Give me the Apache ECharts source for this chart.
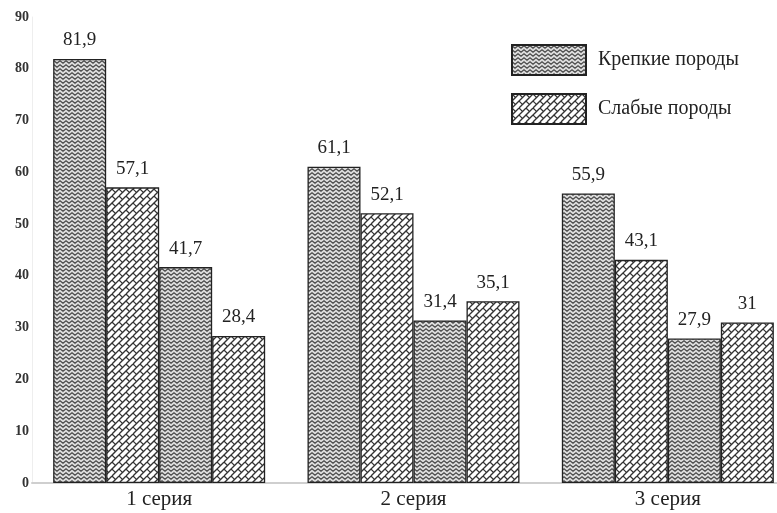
<!DOCTYPE html>
<html>
<head>
<meta charset="utf-8">
<script src="https://cdn.jsdelivr.net/npm/echarts@6/dist/echarts.min.js"></script>
<style>html,body{margin:0;padding:0;background:#fff;}#c{width:777px;height:513px;}</style>
</head>
<body>
<div id="c"></div>
<script>
const categories = ['1 серия', '2 серия', '3 серия'];
const seriesNames = ['Крепкие породы', 'Слабые породы', 'Крепкие породы', 'Слабые породы'];
const strongA = [81.9, 61.1, 55.9];
const weakA = [57.1, 52.1, 43.1];
const strongB = [41.7, 31.4, 27.9];
const weakB = [28.4, 35.1, 31];
const yTicks = [0, 10, 20, 30, 40, 50, 60, 70, 80, 90];

function zigzag() {
  const c = document.createElement('canvas');
  c.width = 6; c.height = 4;
  const g = c.getContext('2d');
  g.fillStyle = '#dcdcdc'; g.fillRect(0, 0, 6, 4);
  g.strokeStyle = '#444'; g.lineWidth = 1.1;
  g.beginPath();
  g.moveTo(-3, 3.2); g.lineTo(0, 0.8); g.lineTo(3, 3.2); g.lineTo(6, 0.8); g.lineTo(9, 3.2);
  g.stroke();
  return c;
}
function bricks() {
  const s = 14;
  const c = document.createElement('canvas');
  c.width = s; c.height = s;
  const g = c.getContext('2d');
  g.fillStyle = '#ffffff'; g.fillRect(0, 0, s, s);
  g.strokeStyle = '#333'; g.lineWidth = 1.3;
  for (let k = -2; k <= 4; k++) {
    const x0 = k * 7;
    g.beginPath(); g.moveTo(x0, s); g.lineTo(x0 + s, 0); g.stroke();
  }
  const seg = (x, y) => { g.beginPath(); g.moveTo(x - 1.9, y - 1.9); g.lineTo(x + 1.9, y + 1.9); g.stroke(); };
  const pts = [[1.75, 1.75], [8.75, 8.75], [8.75, 1.75], [1.75, 8.75]];
  for (let dx = -s; dx <= s; dx += s) for (let dy = -s; dy <= s; dy += s) {
    pts.forEach(p => seg(p[0] + dx, p[1] + dy));
  }
  return c;
}
const zz = { image: zigzag(), repeat: 'repeat' };
const br = { image: bricks(), repeat: 'repeat' };
const fills = [zz, br, zz, br];
const dataSets = [strongA, weakA, strongB, weakB];

const chart = echarts.init(document.getElementById('c'));
const font = 'Liberation Serif';
chart.setOption({
  animation: false,
  backgroundColor: '#fff',
  textStyle: { fontFamily: font },
  grid: { left: 32, width: 763, top: 17, bottom: 30, containLabel: false, outerBoundsMode: 'none' },
  legend: {
    data: ['Крепкие породы', 'Слабые породы'],
    orient: 'vertical',
    left: 511, top: 44, padding: 0,
    icon: 'rect',
    itemWidth: 74, itemHeight: 30, itemGap: 17,
    textStyle: { fontFamily: font, fontSize: 20, color: '#222', padding: [4, 0, 0, 7] },
    selectedMode: false
  },
  xAxis: {
    type: 'category',
    data: categories,
    axisLine: { lineStyle: { color: '#cfcfcf', width: 2 } },
    axisTick: { show: false },
    axisLabel: { fontFamily: font, fontSize: 21, color: '#222', margin: 6 }
  },
  yAxis: {
    type: 'value',
    min: 0, max: 90, interval: 10,
    axisLine: { show: true, lineStyle: { color: '#eeeeee' } },
    axisTick: { show: false },
    splitLine: { show: false },
    axisLabel: { fontFamily: font, fontSize: 14, fontWeight: 'bold', color: '#333', margin: 3,
      formatter: v => yTicks.includes(v) ? String(v) : '' }
  },
  series: dataSets.map((d, i) => ({
    name: seriesNames[i],
    type: 'bar',
    data: d,
    barWidth: 53,
    barGap: '0%',
    itemStyle: { color: fills[i], borderColor: '#222', borderWidth: 1.3 },
    label: {
      show: true, position: 'top', distance: 9,
      fontFamily: font, fontSize: 19, color: '#222',
      formatter: p => String(p.value).replace('.', ',')
    }
  }))
});
</script>
</body>
</html>
